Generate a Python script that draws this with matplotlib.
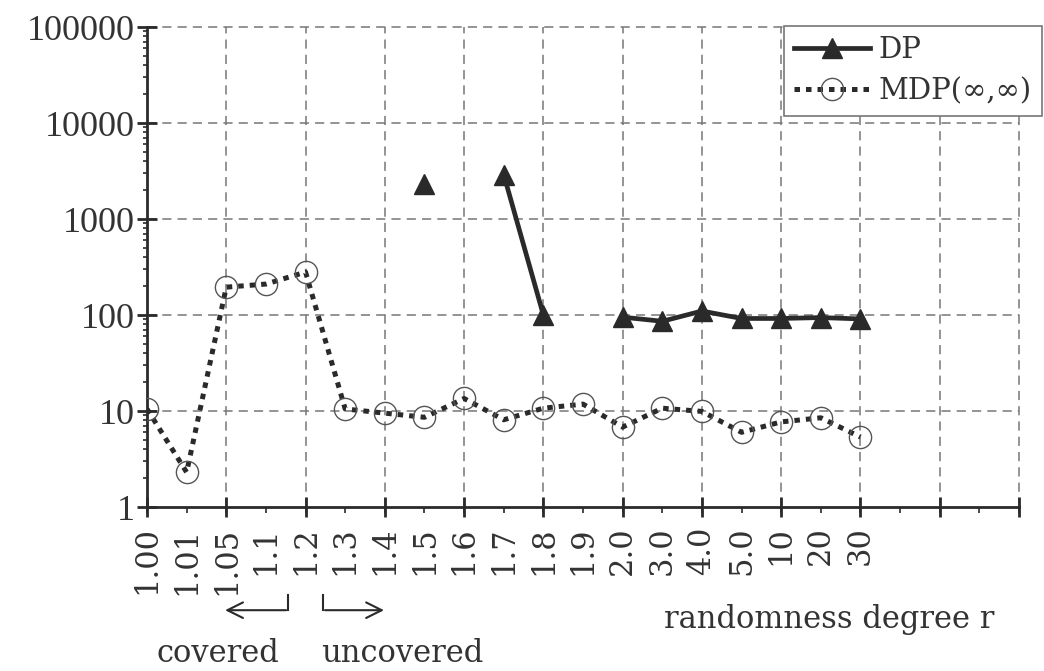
import numpy as np
import matplotlib
matplotlib.use("Agg")
import matplotlib.pyplot as plt
import matplotlib.transforms as mtransforms
from matplotlib.ticker import FixedLocator, NullFormatter, LogLocator, FixedFormatter

r_labels = ["1.00", "1.01", "1.05", "1.1", "1.2", "1.3", "1.4", "1.5", "1.6", "1.7",
            "1.8", "1.9", "2.0", "3.0", "4.0", "5.0", "10", "20", "30"]
mdp = [10.5, 2.3, 195, 210, 280, 10.5, 9.5, 8.6, 13.5, 8.1,
       10.7, 11.8, 6.8, 10.7, 9.9, 6.0, 7.7, 8.5, 5.35]
nan = np.nan
dp = [nan, nan, nan, nan, nan, nan, nan, 2300, nan, 2900,
      100, nan, 95, 86, 110, 92, 92, 94, 91]

x = np.arange(len(r_labels))

SERIF = ["Liberation Serif", "DejaVu Serif"]
DSERIF = ["DejaVu Serif"]
ink = "#2a2a2a"
txt = "#333333"

fig = plt.figure(figsize=(10.44, 6.71), dpi=100)
ax = fig.add_axes([147/1044, 1-507/671, (1019-147)/1044, (507-27)/671])

ax.set_yscale("log")
ax.set_ylim(1, 100000)
ax.set_xlim(0, 22)

# grid
for yv in [10, 100, 1000, 10000, 100000]:
    ax.axhline(yv, color="#777777", lw=1.1, ls=(0, (6, 4)), zorder=1, clip_on=False)
for xv in range(2, 23, 2):
    ax.axvline(xv, color="#777777", lw=1.1, ls=(0, (6, 4)), zorder=1, clip_on=False)

ax.plot(x, mdp, color=ink, lw=3.6, ls=(0, (1.1, 1.2)), marker="o", ms=16,
        mfc="none", mec="#555555", mew=1.0, zorder=3, label="MDP(∞,∞)")
ax.plot(x, dp, color=ink, lw=3.4, marker="^", ms=14, mfc=ink, mec=ink,
        zorder=4, label="DP")

for s in ["top", "right"]:
    ax.spines[s].set_visible(False)
for s in ["left", "bottom"]:
    ax.spines[s].set_color(ink)
    ax.spines[s].set_linewidth(2.0)

# y ticks
ax.yaxis.set_major_locator(FixedLocator([1, 10, 100, 1000, 10000, 100000]))
ax.set_yticklabels(["1", "10", "100", "1000", "10000", "100000"])
ax.yaxis.set_minor_locator(LogLocator(base=10, subs=np.arange(2, 10)))
ax.yaxis.set_minor_formatter(NullFormatter())
ax.tick_params(axis="y", which="major", direction="inout", length=14, width=2,
               color=ink, labelsize=26, labelcolor=txt, pad=2)
ax.tick_params(axis="y", which="minor", direction="out", length=3, width=1.2, color=ink)
for t in ax.get_yticklabels():
    t.set_family(SERIF)

# x ticks
ax.xaxis.remove_overlapping_locs = False
ax.xaxis.set_major_locator(FixedLocator(list(range(0, 23, 2))))
ax.xaxis.set_major_formatter(NullFormatter())
ax.xaxis.set_minor_locator(FixedLocator(list(range(0, 23))))
ax.xaxis.set_minor_formatter(FixedFormatter(r_labels + [""] * 4))
ax.tick_params(axis="x", which="major", direction="inout", length=14, width=2, color=ink)
ax.tick_params(axis="x", which="minor", direction="out", length=4, width=1.2, color=ink,
               labelsize=22, labelcolor=txt, labelrotation=90, pad=10)
for t in ax.xaxis.get_minorticklabels():
    t.set_family(DSERIF)

# legend
h, l = ax.get_legend_handles_labels()
leg = ax.legend(h[::-1], l[::-1], loc="upper right",
                bbox_to_anchor=(1042/1044, 1-26/671), bbox_transform=fig.transFigure,
                borderaxespad=0, fancybox=False, framealpha=1, edgecolor="#777777",
                prop={"family": DSERIF, "size": 21}, handlelength=2.6, handletextpad=0.3,
                borderpad=0.35, labelspacing=0.45)
leg.get_frame().set_linewidth(1.2)
for t in leg.get_texts():
    t.set_color(txt)

# annotations below axis
trans = mtransforms.blended_transform_factory(ax.transData, ax.transAxes)
ya, yb = -0.215, -0.183
ax.plot([3.55, 3.55], [yb, ya], color=ink, lw=1.5, transform=trans, clip_on=False)
ax.annotate("", xy=(1.9, ya), xytext=(3.58, ya), xycoords=trans, textcoords=trans,
            arrowprops=dict(arrowstyle="->", color=ink, lw=1.5, mutation_scale=28))
ax.plot([4.45, 4.45], [yb, ya], color=ink, lw=1.5, transform=trans, clip_on=False)
ax.annotate("", xy=(6.05, ya), xytext=(4.42, ya), xycoords=trans, textcoords=trans,
            arrowprops=dict(arrowstyle="->", color=ink, lw=1.5, mutation_scale=28))

ax.text(1.8, -0.305, "covered", transform=trans, ha="center", va="center",
        family=DSERIF, fontsize=22, color=txt)
ax.text(6.43, -0.305, "uncovered", transform=trans, ha="center", va="center",
        family=DSERIF, fontsize=22, color=txt)
ax.text(17.2, -0.235, "randomness degree r", transform=trans, ha="center", va="center",
        family=DSERIF, fontsize=22, color=txt)

fig.savefig("out.png", dpi=100)
